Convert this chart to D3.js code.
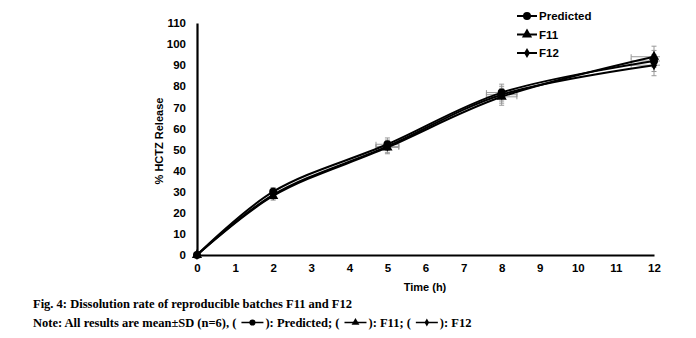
<!DOCTYPE html>
<html><head><meta charset="utf-8">
<script src="https://cdn.jsdelivr.net/npm/d3@7"></script>
<style>body{margin:0;background:#fff}svg{display:block}</style>
</head><body>
<script>
const times = [0, 2, 5, 8, 12];
const predicted = [0, 30, 52.5, 77, 92];
const f11 = [0, 28, 51, 75, 94];
const f12 = [0, 28.5, 51.5, 76, 90];
const sdY = [0, 2, 3, 4, 5];
const sdX = [0, 0, 0.3, 0.4, 0.6];
const yTicks = [0,10,20,30,40,50,60,70,80,90,100,110];
const xTicks = [0,1,2,3,4,5,6,7,8,9,10,11,12];
const seriesNames = ["Predicted", "F11", "F12"];

const W = 696, H = 338;
const svg = d3.select("body").append("svg").attr("width", W).attr("height", H);
const x = d3.scaleLinear().domain([0, 12]).range([197, 654]);
const y = d3.scaleLinear().domain([0, 110]).range([255, 23]);
const FONT = "Arial, Liberation Sans, sans-serif";

svg.append("clipPath").attr("id", "plot").append("rect").attr("x", 180).attr("y", 0).attr("width", 480).attr("height", 260);

// axes
const xAxis = svg.append("g").attr("transform", "translate(0,255)")
  .call(d3.axisBottom(x).tickValues(xTicks).tickSize(0).tickPadding(9));
xAxis.select(".domain").attr("stroke", "#000").attr("stroke-width", 2.2);
xAxis.selectAll("text").attr("font-family", FONT).attr("font-weight", "bold").attr("font-size", 11.5).attr("fill", "#000");
const yAxis = svg.append("g").attr("transform", "translate(197,0)")
  .call(d3.axisLeft(y).tickValues(yTicks).tickSize(0).tickPadding(11));
yAxis.select(".domain").attr("stroke", "#000").attr("stroke-width", 2.2);
yAxis.selectAll("text").attr("font-family", FONT).attr("font-weight", "bold").attr("font-size", 11.5).attr("fill", "#000");

svg.append("text").attr("x", 425).attr("y", 291).attr("text-anchor", "middle")
  .attr("font-family", FONT).attr("font-weight", "bold").attr("font-size", 11).text("Time (h)");
svg.append("text").attr("transform", "translate(163,141) rotate(-90)").attr("text-anchor", "middle")
  .attr("font-family", FONT).attr("font-weight", "bold").attr("font-size", 11).text("% HCTZ Release");

const all = [predicted, f11, f12];
const plot = svg.append("g").attr("clip-path", "url(#plot)");
// error bars
all.forEach(vals => {
  times.forEach((t, i) => {
    if (i === 0) return;
    const g = plot.append("g").attr("stroke", "#999").attr("stroke-width", 1);
    g.append("line").attr("x1", x(t)).attr("x2", x(t)).attr("y1", y(vals[i] - sdY[i])).attr("y2", y(vals[i] + sdY[i]));
    g.append("line").attr("x1", x(t) - 2.5).attr("x2", x(t) + 2.5).attr("y1", y(vals[i] - sdY[i])).attr("y2", y(vals[i] - sdY[i]));
    g.append("line").attr("x1", x(t) - 2.5).attr("x2", x(t) + 2.5).attr("y1", y(vals[i] + sdY[i])).attr("y2", y(vals[i] + sdY[i]));
    if (sdX[i] > 0) {
      g.append("line").attr("x1", x(t - sdX[i])).attr("x2", x(t + sdX[i])).attr("y1", y(vals[i])).attr("y2", y(vals[i]));
      g.append("line").attr("x1", x(t - sdX[i])).attr("x2", x(t - sdX[i])).attr("y1", y(vals[i]) - 2.5).attr("y2", y(vals[i]) + 2.5);
      g.append("line").attr("x1", x(t + sdX[i])).attr("x2", x(t + sdX[i])).attr("y1", y(vals[i]) - 2.5).attr("y2", y(vals[i]) + 2.5);
    }
  });
});

const line = d3.line().x(d => x(d[0])).y(d => y(d[1])).curve(d3.curveCatmullRom.alpha(0.5));
all.forEach(vals => {
  svg.append("path").datum(times.map((t, i) => [t, vals[i]]))
    .attr("fill", "none").attr("stroke", "#000").attr("stroke-width", 2).attr("d", line);
});

const symbols = [d3.symbolCircle, d3.symbolTriangle, d3.symbolDiamond];
const sizes = [50, 45, 30];
all.forEach((vals, k) => {
  times.forEach((t, i) => {
    svg.append("path").attr("d", d3.symbol().type(symbols[k]).size(sizes[k])())
      .attr("transform", `translate(${x(t)},${y(vals[i])})`).attr("fill", "#000");
  });
});

// legend
seriesNames.forEach((n, k) => {
  const ly = 16 + k * 18.5;
  svg.append("line").attr("x1", 517).attr("x2", 537).attr("y1", ly).attr("y2", ly).attr("stroke", "#000").attr("stroke-width", 2);
  svg.append("path").attr("d", d3.symbol().type(symbols[k]).size(sizes[k])())
    .attr("transform", `translate(527,${ly})`).attr("fill", "#000");
  svg.append("text").attr("x", 539).attr("y", ly + 4).attr("font-family", FONT)
    .attr("font-weight", "bold").attr("font-size", 11.5).text(n);
});

// caption
const capFont = "Liberation Serif, Times New Roman, serif";
svg.append("text").attr("x", 33).attr("y", 308).attr("font-family", capFont).attr("font-weight", "bold").attr("font-size", 12.5)
  .text("Fig. 4: Dissolution rate of reproducible batches F11 and F12");
const parts = ["Note: All results are mean±SD (n=6), (", "): Predicted; (", "): F11; (", "): F12"];
let cx = 33;
const cy = 327;
const gap = 29;
parts.forEach((p, k) => {
  const t = svg.append("text").attr("x", cx).attr("y", cy).attr("font-family", capFont).attr("font-weight", "bold").attr("font-size", 12.5).text(p);
  cx += t.node().getComputedTextLength();
  if (k < 3) {
    const my = cy - 4.5;
    svg.append("line").attr("x1", cx + 5).attr("x2", cx + gap - 2).attr("y1", my).attr("y2", my).attr("stroke", "#000").attr("stroke-width", 1.5);
    svg.append("path").attr("d", d3.symbol().type(symbols[k]).size(sizes[k] * 0.6)())
      .attr("transform", `translate(${cx + (gap + 3) / 2},${my})`).attr("fill", "#000");
    cx += gap;
  }
});
</script>
</body></html>
